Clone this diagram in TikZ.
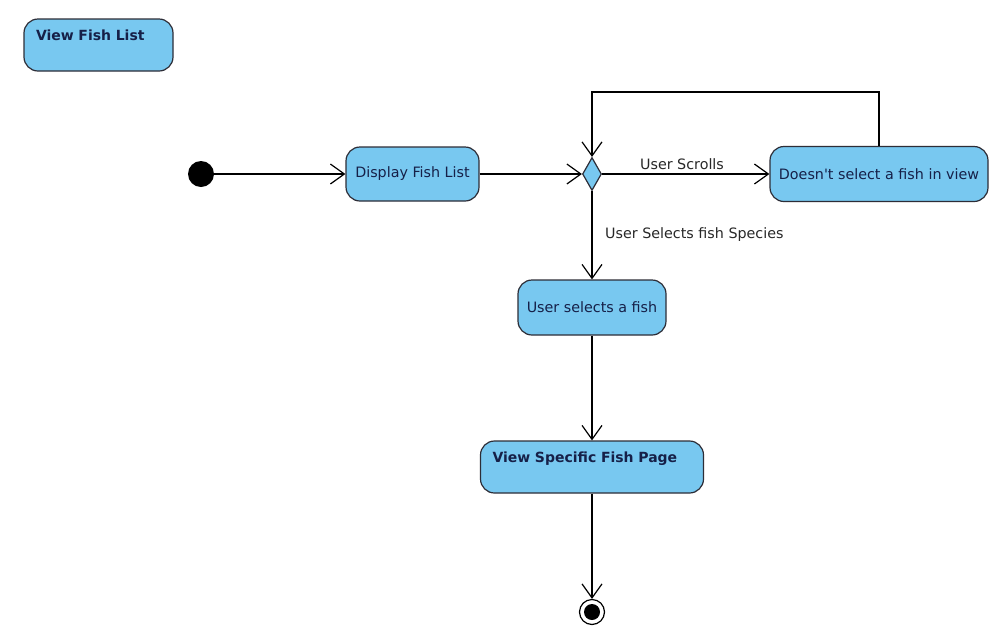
\documentclass[tikz,border=0pt]{standalone}
\usepackage{fontspec}
\setmainfont{DejaVu Sans}
\usetikzlibrary{arrows.meta,shapes.geometric}
\definecolor{actfill}{RGB}{120,200,240}
\definecolor{actdraw}{RGB}{45,45,55}
\definecolor{acttext}{RGB}{22,32,72}
\definecolor{flowtext}{RGB}{40,40,40}
\begin{document}
\begin{tikzpicture}[x=1pt,y=-1pt,
  every node/.style={font=\fontsize{14.3}{16}\selectfont},
  action/.style={draw=actdraw,fill=actfill,line width=1.2pt,rounded corners=14pt,
    text=acttext,inner sep=0pt,align=center},
  framebox/.style={action,font=\fontsize{14}{16}\selectfont\bfseries,align=left,
    inner xsep=12pt,inner ysep=4pt,text height=17pt,text depth=27pt},
  decision/.style={diamond,draw=actdraw,fill=actfill,line width=1.2pt,inner sep=0pt,
    minimum width=19pt,minimum height=33pt},
  flow/.style={draw=black,line width=1.2pt,-{Straight Barb[length=14pt,width=20pt,line width=1.2pt]}},
  guard/.style={text=flowtext,inner sep=0pt}]
\useasboundingbox (0,0) rectangle (999,630);
\fill[white] (0,0) rectangle (999,630);

% frame label box
\node[framebox,text width=125pt] (title) at (98.5,45) {View Fish List};

% initial and final states
\node[circle,fill=black,minimum size=26pt,inner sep=0pt] (start) at (201,174) {};
\node[circle,draw=black,line width=1.2pt,fill=white,minimum size=25pt,inner sep=0pt] (stop) at (592,612) {};
\fill[black] (stop.center) circle (8pt);

% actions
\node[action,minimum width=133pt,minimum height=54pt] (display) at (412.5,174) {Display Fish List};
\node[decision] (choice) at (592,174) {};
\node[action,minimum width=218pt,minimum height=55pt] (noselect) at (879,174) {Doesn\textquotesingle t select a fish in view};
\node[action,minimum width=148pt,minimum height=55pt] (select) at (592,307.5) {User selects a fish};
\node[framebox,text width=199pt] (detail) at (592,467) {View Specific Fish Page};

\coordinate (loopturn) at (592,92);

% flows
\draw[flow] (start) -- (display);
\draw[flow] (display) -- (choice);
\draw[flow] (choice) -- (noselect);
\draw[flow] (noselect.north) |- (loopturn) -- (choice.north);
\draw[flow] (choice.south) -- (select.north);
\draw[flow] (select.south) -- (detail.north);
\draw[flow] (detail.south) -- (stop.north);

% guards
\node[guard,anchor=base] (gscroll) at (682,169) {User Scrolls};
\node[guard,anchor=base west] (gspecies) at (605,238) {User Selects fish Species};
\end{tikzpicture}
\end{document}
